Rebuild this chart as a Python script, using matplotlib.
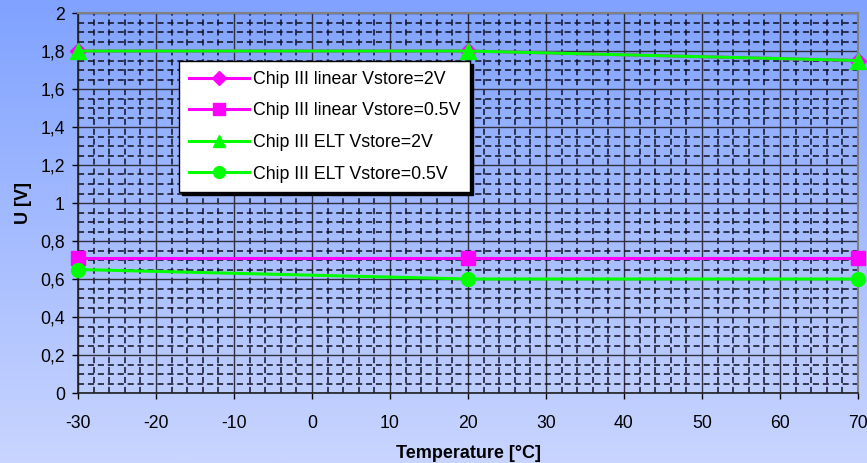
import numpy as np
import matplotlib
matplotlib.use("Agg")
import matplotlib.pyplot as plt
from matplotlib.ticker import MultipleLocator, FuncFormatter
from matplotlib.colors import LinearSegmentedColormap

plt.rcParams['font.family'] = ['Liberation Sans', 'DejaVu Sans']
plt.rcParams['axes.unicode_minus'] = False

# Data
temperature = [-30, 20, 70]
linear_2v = [1.80, 1.80, 1.75]
linear_05v = [0.71, 0.71, 0.71]
elt_2v = [1.80, 1.80, 1.75]
elt_05v = [0.65, 0.60, 0.60]

labels = ["Chip III linear Vstore=2V", "Chip III linear Vstore=0.5V",
          "Chip III ELT Vstore=2V", "Chip III ELT Vstore=0.5V"]

fig = plt.figure(figsize=(8.67, 4.63), dpi=100)

# Vertical gradient background over the whole figure
bg = fig.add_axes([0, 0, 1, 1], zorder=-10)
cmap = LinearSegmentedColormap.from_list("bg", ["#c9d5ff", "#80a2ff"])
grad = np.linspace(0, 1, 256).reshape(-1, 1)
bg.imshow(grad, aspect="auto", cmap=cmap, origin="lower", extent=[0, 1, 0, 1])
bg.set_axis_off()

ax = fig.add_axes([78 / 867, 1 - 393 / 463, 780 / 867, 380 / 463])
ax.set_facecolor("none")

ax.plot(temperature, linear_2v, color="#ff00ff", lw=2.2, marker="D", ms=8.5,
        label=labels[0], zorder=5, clip_on=False)
ax.plot(temperature, linear_05v, color="#ff00ff", lw=2.2, marker="s", ms=10,
        label=labels[1], zorder=5, clip_on=False)
ax.plot(temperature, elt_2v, color="#00ff00", lw=2.2, marker="^", ms=11,
        label=labels[2], zorder=6, clip_on=False)
ax.plot(temperature, elt_05v, color="#00ff00", lw=2.2, marker="o", ms=10,
        label=labels[3], zorder=6, clip_on=False)

ax.set_xlim(-30, 70)
ax.set_ylim(0, 2)
ax.xaxis.set_major_locator(MultipleLocator(10))
ax.xaxis.set_minor_locator(MultipleLocator(2))
ax.yaxis.set_major_locator(MultipleLocator(0.2))
ax.yaxis.set_minor_locator(MultipleLocator(0.05))
ax.yaxis.set_major_formatter(FuncFormatter(
    lambda v, p: ("%g" % round(v, 1)).replace(".", ",")))

ax.grid(which="major", color="#303040", lw=1.0, ls="-", zorder=1)
ax.grid(which="minor", color="#101020", lw=1.1, ls=(0, (4, 2.5)), zorder=1)
ax.set_axisbelow(True)

ax.tick_params(which="major", direction="out", length=4, width=1,
               labelsize=12.7, colors="black", pad=5.5)
ax.tick_params(axis="x", which="major", pad=11.5)
ax.tick_params(which="minor", length=0)

for s in ("left", "bottom"):
    ax.spines[s].set_color("#202020")
    ax.spines[s].set_linewidth(1.2)
for s in ("top", "right"):
    ax.spines[s].set_color("#808080")
    ax.spines[s].set_linewidth(1.5)

ax.set_xlabel("Temperature [°C]", fontsize=13, fontweight="bold", labelpad=10)
ax.set_ylabel("U [V]", fontsize=13, fontweight="bold", labelpad=6)

leg = ax.legend(loc="upper left",
                bbox_to_anchor=(179 / 867, 1 - 61 / 463),
                bbox_transform=fig.transFigure, borderaxespad=0,
                fontsize=12.8, frameon=True, fancybox=False,
                shadow={"color": "black", "alpha": 1.0},
                edgecolor="black", facecolor="white", framealpha=1,
                handlelength=3.4, handletextpad=0.2, labelspacing=0.82,
                borderpad=0.55, markerscale=0.85)
leg.get_frame().set_linewidth(1.0)
leg.set_zorder(10)

fig.savefig("out.png", dpi=100)
